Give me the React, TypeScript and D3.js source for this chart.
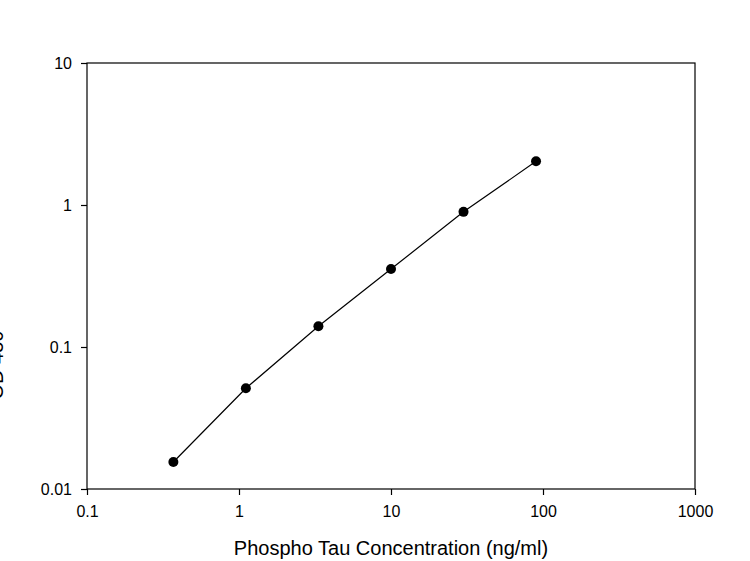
import * as d3 from "d3";
import React, {useEffect, useRef} from "react";

const concentrations = [0.37, 1.11, 3.33, 10, 30, 90];
const odValues = [0.0155, 0.0512, 0.14, 0.354, 0.895, 2.03];
const xTicks = [0.1, 1, 10, 100, 1000];
const yTicks = [0.01, 0.1, 1, 10];
const xTitle = "Phospho Tau Concentration (ng/ml)";
const yTitle = "OD 450";

const App: React.FC = () => {
  const svgRef = useRef<SVGSVGElement | null>(null);

  useEffect(() => {
    if (!svgRef.current) {
      return
    }
    const svg = d3.select(svgRef.current);
    svg.selectAll("*").remove();

    const left = 87, right = 695, top = 63, bottom = 489;
    const font = "'Liberation Sans', Arial, sans-serif";

    const x = d3.scaleLog().domain([0.1, 1000]).range([left, right]);
    const y = d3.scaleLog().domain([0.01, 10]).range([bottom, top]);

    // frame
    svg.append("rect")
      .attr("x", left).attr("y", top)
      .attr("width", right - left).attr("height", bottom - top)
      .attr("fill", "none").attr("stroke", "#000").attr("stroke-width", 1.2);

    const xAxis = svg.append("g")
      .attr("transform", `translate(0,${bottom})`)
      .call(d3.axisBottom(x).tickValues(xTicks).tickFormat(d => String(d)).tickSizeInner(6).tickSizeOuter(0).tickPadding(11));
    const yAxis = svg.append("g")
      .attr("transform", `translate(${left},0)`)
      .call(d3.axisLeft(y).tickValues(yTicks).tickFormat(d => String(d)).tickSizeInner(6).tickSizeOuter(0).tickPadding(9));

    [xAxis, yAxis].forEach(a => {
      a.select(".domain").remove();
      a.selectAll("line").attr("stroke", "#000").attr("stroke-width", 1.2);
      a.selectAll("text")
        .attr("fill", "#000")
        .style("font-family", font)
        .style("font-size", "16px");
    });

    const pts = concentrations.map((c, i) => [c, odValues[i]] as [number, number]);

    svg.append("path")
      .datum(pts)
      .attr("fill", "none")
      .attr("stroke", "#000")
      .attr("stroke-width", 1.2)
      .attr("d", d3.line<[number, number]>().x(d => x(d[0])).y(d => y(d[1])));

    svg.selectAll(".dot")
      .data(pts)
      .enter().append("circle")
      .attr("class", "dot")
      .attr("cx", d => x(d[0]))
      .attr("cy", d => y(d[1]))
      .attr("r", 5)
      .attr("fill", "#000");

    svg.append("text")
      .attr("x", (left + right) / 2)
      .attr("y", 555)
      .attr("text-anchor", "middle")
      .style("font-family", font)
      .style("font-size", "20px")
      .text(xTitle);

    // cut off at the left edge, as in the source image
    svg.append("text")
      .attr("transform", `translate(3,365) rotate(-90)`)
      .attr("text-anchor", "middle")
      .style("font-family", font)
      .style("font-size", "20px")
      .text(yTitle);
  }, []);

  return (
    <svg
      ref={svgRef}
      width={750}
      height={561}
      style={{position: "absolute", left: 0, top: 0, background: "#fff"}}
    />
  );
}

export default App;
